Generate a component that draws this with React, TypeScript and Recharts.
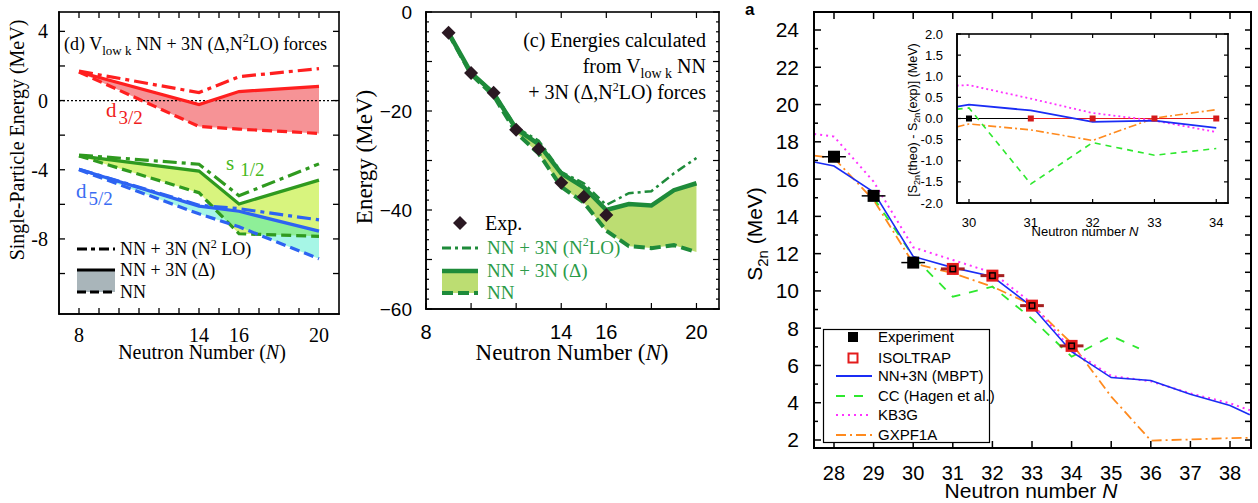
import React from "react";
import { ComposedChart, Line, Area, Scatter, XAxis, YAxis, ReferenceLine, ErrorBar } from "recharts";

const SERIF = "'Liberation Serif', 'Times New Roman', serif";
const SANS = "'Liberation Sans', Arial, sans-serif";

// (d) single-particle energies (MeV) at N = 8, 14, 16, 20
const spN = [8, 14, 16, 20];
const d32N2LO = [1.7, 0.46, 1.38, 1.85];
const d32Delta = [1.65, -0.23, 0.52, 0.82];
const d32NN = [1.65, -1.5, -1.65, -1.9];
const s12N2LO = [-3.15, -3.68, -5.5, -3.66];
const s12Delta = [-3.2, -4.08, -5.98, -4.6];
const s12NN = [-3.2, -5.33, -7.7, -7.85];
const d52N2LO = [-3.97, -6.05, -6.25, -6.9];
const d52Delta = [-3.97, -6.1, -6.4, -7.55];
const d52NN = [-4.0, -6.55, -7.3, -9.15];
const spXTicks = [8, 9, 10, 11, 12, 13, 14, 15, 16, 17, 18, 19, 20];
const spXLabels = [8, 14, 16, 20];
const spYTicks = [-10, -8, -6, -4, -2, 0, 2, 4];
const spYLabels = [-8, -4, 0, 4];

// (c) ground-state energies (MeV)
const gsN = [9, 10, 11, 12, 13, 14, 15, 16, 17, 18, 19, 20];
const gsExpN = [9, 10, 11, 12, 13, 14, 15, 16];
const gsExp = [-4.2, -12.3, -16.3, -23.8, -27.7, -34.5, -37.3, -41.0];
const gsN2LO = [-4.2, -12.3, -16.2, -23.3, -26.0, -32.3, -34.6, -39.0, -36.6, -36.2, -32.6, -29.5];
const gsDelta = [-4.2, -12.3, -16.4, -23.6, -26.7, -32.6, -35.4, -40.0, -38.8, -39.1, -36.0, -34.6];
const gsNN = [-4.3, -12.6, -16.9, -24.4, -28.6, -35.3, -38.5, -44.2, -47.3, -47.7, -47.1, -48.5];
const gsXTicks = [8, 10, 12, 14, 16, 18, 20];
const gsXLabels = [8, 14, 16, 20];
const gsYTicks = [
  -60, -58, -56, -54, -52, -50, -48, -46, -44, -42, -40, -38, -36, -34, -32, -30, -28, -26, -24, -22, -20, -18, -16,
  -14, -12, -10, -8, -6, -4, -2, 0,
];
const gsYMajor = [-60, -50, -40, -30, -20, -10, 0];
const gsYLabels = [-60, -40, -20, 0];

// (a) two-neutron separation energies S2n (MeV)
const s2nN = [27.5, 28, 29, 30, 31, 32, 33, 34, 35, 36, 37, 38, 38.5];
const mbpt = [16.92, 16.7, 15.3, 11.85, 11.25, 10.77, 9.16, 6.74, 5.35, 5.19, 4.45, 3.85, 3.35];
const kb3g = [18.42, 18.28, 15.86, 12.34, 11.66, 10.98, 9.34, 6.83, 5.44, 5.15, 4.5, 3.97, 3.6];
const gxpf1a = [17.26, 17.12, 14.88, 11.48, 10.95, 10.23, 9.25, 7.19, 4.33, 1.97, 2.03, 2.1, 2.12];
const ccN = [29, 30, 31, 32, 33, 34, 35, 35.7];
const ccHagen = [15.0, 11.85, 9.69, 10.23, 8.5, 6.47, 7.58, 6.92];
const expN = [28, 29, 30];
const expS2n = [17.2, 15.1, 11.52];
const isoN = [31, 32, 33, 34];
const isoS2n = [11.18, 10.82, 9.21, 7.05];
const nErr = 0.3;
const aXTicks = [28, 29, 30, 31, 32, 33, 34, 35, 36, 37, 38];
const aYTicks = [2, 3, 4, 5, 6, 7, 8, 9, 10, 11, 12, 13, 14, 15, 16, 17, 18, 19, 20, 21, 22, 23, 24];
const aYLabels = [2, 4, 6, 8, 10, 12, 14, 16, 18, 20, 22, 24];

// inset: S2n(theo) - S2n(exp)
const diffN = [29.8, 30, 31, 32, 33, 34];
const diffMbpt = [0.28, 0.33, 0.19, -0.08, -0.05, -0.22];
const diffKb3g = [0.78, 0.79, 0.47, 0.13, -0.05, -0.32];
const diffCC = [0.22, 0.25, -1.55, -0.57, -0.87, -0.71];
const diffGx = [-0.2, -0.13, -0.27, -0.52, 0.01, 0.21];
const diffExpN = [29.8, 30, 31];
const diffIsoN = [31, 32, 33, 34];
const iXTicks = [30, 31, 32, 33, 34];
const iYTicks = [-2, -1.5, -1, -0.5, 0, 0.5, 1, 1.5, 2];

const pts = (ns: number[], vs: number[]) => ns.map((n, i) => ({ n, v: vs[i] }));
const band = (ns: number[], lo: number[], hi: number[]) => ns.map((n, i) => ({ n, lo: lo[i], hi: hi[i] }));
const withErr = (ns: number[], vs: number[]) => ns.map((n, i) => ({ n, v: vs[i], e: nErr }));
const rangeKey = (d: any) => [d.lo, d.hi];

const D_DOM_X: [number, number] = [7, 21];
const D_DOM_Y: [number, number] = [-12.34, 5.12];
const C_DOM_X: [number, number] = [8, 21];
const C_DOM_Y: [number, number] = [-60, 0];
const A_DOM_X: [number, number] = [27.495, 38.53];
const A_DOM_Y: [number, number] = [1.571, 24.966];
const I_DOM_X: [number, number] = [29.806, 34.19];
const I_DOM_Y: [number, number] = [-2, 2];

const only = (labels: number[], f: (v: number) => string = String) => (v: number) => (labels.includes(v) ? f(v) : "");
const fmtSpX = only(spXLabels);
const fmtSpY = only(spYLabels);
const fmtGsX = only(gsXLabels);
const fmtGsY = only(gsYLabels, (v) => (v < 0 ? "\u2212" + Math.abs(v) : String(v)));
const fmtAY = only(aYLabels);
const fmtI = (v: number) => v.toFixed(1);

const dRed = { band: band(spN, d32NN, d32Delta), n2lo: pts(spN, d32N2LO), delta: pts(spN, d32Delta), nn: pts(spN, d32NN) };
const dGreen = { band: band(spN, s12NN, s12Delta), n2lo: pts(spN, s12N2LO), delta: pts(spN, s12Delta), nn: pts(spN, s12NN) };
const dBlue = { band: band(spN, d52NN, d52Delta), n2lo: pts(spN, d52N2LO), delta: pts(spN, d52Delta), nn: pts(spN, d52NN) };
const cBand = band(gsN, gsNN, gsDelta);
const cNN = pts(gsN, gsNN);
const cDelta = pts(gsN, gsDelta);
const cN2LO = pts(gsN, gsN2LO);
const cExp = pts(gsExpN, gsExp);
const aGx = pts(s2nN, gxpf1a);
const aCC = pts(ccN, ccHagen);
const aKb = pts(s2nN, kb3g);
const aMb = pts(s2nN, mbpt);
const aExp = withErr(expN, expS2n);
const aIso = withErr(isoN, isoS2n);
const iZeroExp = pts(diffExpN, diffExpN.map(() => 0));
const iZeroIso = pts(diffIsoN, diffIsoN.map(() => 0));
const iGx = pts(diffN, diffGx);
const iCC = pts(diffN, diffCC);
const iKb = pts(diffN, diffKb3g);
const iMb = pts(diffN, diffMbpt);
const iExpPt = pts([30], [0]);

const diamond = (p: any) => (
  <polygon points={`${p.cx},${p.cy - 7} ${p.cx + 7},${p.cy} ${p.cx},${p.cy + 7} ${p.cx - 7},${p.cy}`} fill="#2a1822" />
);
const expSq = (p: any) => <rect x={p.cx - 6} y={p.cy - 6} width={12} height={12} fill="#000" />;
const isoSq = (p: any) => (
  <g>
    <rect x={p.cx - 6} y={p.cy - 6} width={12} height={12} fill="#e31b1b" />
    <rect x={p.cx - 3.5} y={p.cy - 3.5} width={7} height={7} fill="#000" />
    <rect x={p.cx - 2} y={p.cy - 2} width={4} height={4} fill="#e31b1b" />
  </g>
);
const smallBlack = (p: any) => <rect x={p.cx - 3} y={p.cy - 3} width={6} height={6} fill="#000" />;
const smallRed = (p: any) => <rect x={p.cx - 3} y={p.cy - 3} width={6} height={6} fill="#d41a1a" />;

const AX = { stroke: "#000", strokeWidth: 1.5 };
const AX2 = { stroke: "#000", strokeWidth: 2 };
const tickSerif20 = { fontSize: 20, fontFamily: SERIF, fill: "#000" };
const tickSans20 = { fontSize: 20, fontFamily: SANS, fill: "#000" };
const tickSans19 = { fontSize: 19, fontFamily: SANS, fill: "#000" };
const tickSans21 = { fontSize: 21, fontFamily: SANS, fill: "#000" };
const tickSans13 = { fontSize: 13, fontFamily: SANS, fill: "#000" };

const off = { isAnimationActive: false, dot: false, activeDot: false, legendType: "none" as const };

function PanelD() {
  const RED = "#ff1f1f";
  const GREEN = "#2f9a1f";
  const BLUE = "#2d63f2";
  const DD = "14 5 4 5";
  const DA = "10 5";
  return (
    <div style={{ position: "absolute", left: 0, top: 0 }}>
      <ComposedChart width={360} height={370} margin={{ top: 12, right: 21, bottom: 0, left: 0 }}>
        <XAxis type="number" dataKey="n" domain={D_DOM_X} ticks={spXTicks} height={56} allowDataOverflow interval={0}
          axisLine={AX} tickLine={false} tickMargin={8} tick={tickSerif20} tickFormatter={fmtSpX} />
        <YAxis type="number" domain={D_DOM_Y} ticks={spYTicks} width={59} allowDataOverflow interval={0}
          axisLine={AX} tickLine={false} tickMargin={5} tick={tickSerif20} tickFormatter={fmtSpY} />
        <ReferenceLine y={0} stroke="#000" strokeWidth={1.2} strokeDasharray="2 2" />

        <Area data={dRed.band} dataKey={rangeKey} fill="#f69396" fillOpacity={1} stroke="none" {...off} />
        <Area data={dGreen.band} dataKey={rangeKey} fill="#d8f47e" fillOpacity={1} stroke="none" {...off} />

        <Line data={dRed.n2lo} dataKey="v" stroke={RED} strokeWidth={3.2} strokeDasharray={DD} {...off} />
        <Line data={dRed.delta} dataKey="v" stroke={RED} strokeWidth={3.2} {...off} />
        <Line data={dRed.nn} dataKey="v" stroke={RED} strokeWidth={3.2} strokeDasharray={DA} {...off} />

        <Line data={dGreen.n2lo} dataKey="v" stroke={GREEN} strokeWidth={3.2} strokeDasharray={DD} {...off} />
        <Line data={dGreen.delta} dataKey="v" stroke={GREEN} strokeWidth={3.2} {...off} />
        <Line data={dGreen.nn} dataKey="v" stroke={GREEN} strokeWidth={3.2} strokeDasharray={DA} {...off} />

        <Area data={dBlue.band} dataKey={rangeKey} fill="rgb(32,232,192)" fillOpacity={0.4} stroke="none" {...off} />

        <Line data={dBlue.n2lo} dataKey="v" stroke={BLUE} strokeWidth={3.2} strokeDasharray={DD} {...off} />
        <Line data={dBlue.delta} dataKey="v" stroke={BLUE} strokeWidth={3.2} {...off} />
        <Line data={dBlue.nn} dataKey="v" stroke={BLUE} strokeWidth={3.2} strokeDasharray={DA} {...off} />
      </ComposedChart>
    </div>
  );
}

function PanelC() {
  const G = "#1e8b3a";
  return (
    <div style={{ position: "absolute", left: 340, top: 0 }}>
      <ComposedChart width={390} height={370} margin={{ top: 12, right: 11, bottom: 0, left: 0 }}>
        <XAxis type="number" dataKey="n" domain={C_DOM_X} ticks={gsXTicks} height={61} allowDataOverflow interval={0}
          axisLine={AX} tickLine={false} tickMargin={10} tick={tickSans20} tickFormatter={fmtGsX} />
        <YAxis type="number" domain={C_DOM_Y} ticks={gsYTicks} width={86} allowDataOverflow interval={0}
          axisLine={AX} tickLine={false} tickMargin={8} tick={tickSans19} tickFormatter={fmtGsY} />
        <Area data={cBand} dataKey={rangeKey} fill="#bcdd72" fillOpacity={1} stroke="none" {...off} />
        <Line data={cNN} dataKey="v" stroke={G} strokeWidth={4} strokeDasharray="11 5" {...off} />
        <Line data={cDelta} dataKey="v" stroke={G} strokeWidth={4.5} {...off} />
        <Line data={cN2LO} dataKey="v" stroke={G} strokeWidth={2.5} strokeDasharray="9 4 3 4" {...off} />
        <Scatter data={cExp} dataKey="v" shape={diamond} isAnimationActive={false} legendType="none" />
      </ComposedChart>
    </div>
  );
}

const A_BLUE = "#1a2cf5";
const A_GREEN = "#2ee82e";
const A_MAG = "#ff33ff";
const A_ORANGE = "#ff8a1e";

function PanelA() {
  return (
    <div style={{ position: "absolute", left: 740, top: 0 }}>
      <ComposedChart width={518} height={503} margin={{ top: 12, right: 7, bottom: 0, left: 0 }}>
        <XAxis type="number" dataKey="n" domain={A_DOM_X} ticks={aXTicks} height={55} allowDataOverflow interval={0}
          axisLine={AX2} tickLine={false} tickMargin={12} tick={tickSans20} />
        <YAxis type="number" domain={A_DOM_Y} ticks={aYTicks} width={74} allowDataOverflow interval={0}
          axisLine={AX2} tickLine={false} tickMargin={9} tick={tickSans21} tickFormatter={fmtAY} />
        <Line data={aGx} dataKey="v" stroke={A_ORANGE} strokeWidth={1.8} strokeDasharray="10 4 2 4" {...off} />
        <Line data={aCC} dataKey="v" stroke={A_GREEN} strokeWidth={1.8} strokeDasharray="9 9" {...off} />
        <Line data={aKb} dataKey="v" stroke={A_MAG} strokeWidth={2} strokeDasharray="2 4" {...off} />
        <Line data={aMb} dataKey="v" stroke={A_BLUE} strokeWidth={1.6} {...off} />
        <Scatter data={aExp} dataKey="v" shape={expSq} isAnimationActive={false} legendType="none">
          <ErrorBar dataKey="e" direction="x" width={0} stroke="#000" strokeWidth={1.5} />
        </Scatter>
        <Scatter data={aIso} dataKey="v" shape={isoSq} isAnimationActive={false} legendType="none">
          <ErrorBar dataKey="e" direction="x" width={0} stroke="#a52020" strokeWidth={3} />
        </Scatter>
      </ComposedChart>
    </div>
  );
}

function Inset() {
  return (
    <div style={{ position: "absolute", left: 880, top: 28 }}>
      <ComposedChart width={360} height={215} margin={{ top: 6, right: 12, bottom: 0, left: 0 }}>
        <XAxis type="number" dataKey="n" domain={I_DOM_X} ticks={iXTicks} height={40} allowDataOverflow interval={0}
          axisLine={AX} tickLine={false} tickMargin={9} tick={tickSans13} />
        <YAxis type="number" domain={I_DOM_Y} ticks={iYTicks} width={77} allowDataOverflow interval={0}
          axisLine={AX} tickLine={false} tickMargin={8} tick={tickSans13} tickFormatter={fmtI} />
        <Line data={iZeroExp} dataKey="v" stroke="#000" strokeWidth={1.2} {...off} />
        <Line data={iZeroIso} dataKey="v" stroke="#e31b1b" strokeWidth={1.2} {...off} />
        <Line data={iGx} dataKey="v" stroke={A_ORANGE} strokeWidth={1.6} strokeDasharray="8 3 2 3" {...off} />
        <Line data={iCC} dataKey="v" stroke={A_GREEN} strokeWidth={1.6} strokeDasharray="6 5" {...off} />
        <Line data={iKb} dataKey="v" stroke={A_MAG} strokeWidth={1.8} strokeDasharray="2 3" {...off} />
        <Line data={iMb} dataKey="v" stroke={A_BLUE} strokeWidth={1.8} {...off} />
        <Scatter data={iExpPt} dataKey="v" shape={smallBlack} isAnimationActive={false} legendType="none" />
        <Scatter data={iZeroIso} dataKey="v" shape={smallRed} isAnimationActive={false} legendType="none" />
      </ComposedChart>
    </div>
  );
}

// Plot frame and inward ticks on all four sides, drawn as filled bars.
// Box and domains are the same ones the charts above are laid out with.
interface FrameSpec {
  l: number;
  r: number;
  t: number;
  b: number;
  dx: [number, number];
  dy: [number, number];
  xt: number[];
  yt: number[];
  xLen: number;
  yLen: number;
  yMajor?: number[];
  yMinorLen?: number;
  rightLen?: number;
  sw: number;
  tw: number;
}

function FrameTicks({ f }: { f: FrameSpec }) {
  const sx = (v: number) => f.l + ((v - f.dx[0]) / (f.dx[1] - f.dx[0])) * (f.r - f.l);
  const sy = (v: number) => f.b - ((v - f.dy[0]) / (f.dy[1] - f.dy[0])) * (f.b - f.t);
  const yl = (v: number) => (!f.yMajor || f.yMajor.includes(v) ? f.yLen : f.yMinorLen ?? f.yLen);
  const h = f.sw / 2;
  const th = f.tw / 2;
  const bars: React.ReactNode[] = [
    <rect key="top" x={f.l - h} y={f.t - h} width={f.r - f.l + f.sw} height={f.sw} fill="#000" />,
    <rect key="bot" x={f.l - h} y={f.b - h} width={f.r - f.l + f.sw} height={f.sw} fill="#000" />,
    <rect key="lft" x={f.l - h} y={f.t - h} width={f.sw} height={f.b - f.t + f.sw} fill="#000" />,
    <rect key="rgt" x={f.r - h} y={f.t - h} width={f.sw} height={f.b - f.t + f.sw} fill="#000" />,
  ];
  f.xt.forEach((v) => {
    const x = sx(v);
    bars.push(<rect key={"xb" + v} x={x - th} y={f.b - f.xLen} width={f.tw} height={f.xLen} fill="#000" />);
    bars.push(<rect key={"xt" + v} x={x - th} y={f.t} width={f.tw} height={f.xLen} fill="#000" />);
  });
  f.yt.forEach((v) => {
    const y = sy(v);
    const L = yl(v);
    const R = f.rightLen ?? L;
    bars.push(<rect key={"yl" + v} x={f.l} y={y - th} width={L} height={f.tw} fill="#000" />);
    bars.push(<rect key={"yr" + v} x={f.r - R} y={y - th} width={R} height={f.tw} fill="#000" />);
  });
  return <g>{bars}</g>;
}

const FRAMES: FrameSpec[] = [
  { l: 59, r: 339, t: 12, b: 314, dx: D_DOM_X, dy: D_DOM_Y, xt: spXTicks, yt: spYTicks, xLen: 6, yLen: 6, sw: 1.6, tw: 1.3 },
  {
    l: 426, r: 719, t: 12, b: 309, dx: C_DOM_X, dy: C_DOM_Y, xt: gsXTicks, yt: gsYTicks, xLen: 6, yLen: 6,
    yMajor: gsYMajor, yMinorLen: 3, sw: 1.6, tw: 1.2,
  },
  {
    l: 814, r: 1251, t: 12, b: 448, dx: A_DOM_X, dy: A_DOM_Y, xt: aXTicks, yt: aYTicks, xLen: 7, yLen: 7,
    yMajor: aYLabels, yMinorLen: 4, rightLen: 6, sw: 2, tw: 1.5,
  },
  { l: 957, r: 1228, t: 34, b: 203, dx: I_DOM_X, dy: I_DOM_Y, xt: iXTicks, yt: iYTicks, xLen: 4, yLen: 4, sw: 1.6, tw: 1.2 },
];

// titles, panel texts, legends and plot frames, in page pixels
function Annotations() {
  const G = "#1e8b3a";
  const rows = [8, 29, 47, 67, 86, 106];
  return (
    <svg width={1258} height={503} style={{ position: "absolute", left: 0, top: 0, pointerEvents: "none" }}>
      {FRAMES.map((f, i) => (
        <FrameTicks key={i} f={f} />
      ))}

      {/* panel (d) */}
      <text x={64} y={50} fontFamily={SERIF} fontSize={18} fill="#000">
        (d) V<tspan dy={5} fontSize={13}>low k</tspan>
        <tspan dy={-5}>{" NN + 3N (\u0394,N"}</tspan>
        <tspan dy={-8} fontSize={12}>2</tspan>
        <tspan dy={8}>LO) forces</tspan>
      </text>
      <text x={106} y={117} fontFamily={SERIF} fontSize={21} fill="#f01c1c">
        d<tspan dx={2} dy={7} fontSize={19}>3/2</tspan>
      </text>
      <text x={226} y={170} fontFamily={SERIF} fontSize={21} fill="#46b820">
        s<tspan dx={6} dy={6} fontSize={19}>1/2</tspan>
      </text>
      <text x={76} y={198} fontFamily={SERIF} fontSize={21} fill="#3a6cf2">
        d<tspan dx={2} dy={7} fontSize={19}>5/2</tspan>
      </text>
      <text x={202} y={359} textAnchor="middle" fontFamily={SERIF} fontSize={20} fill="#000">
        Neutron Number (<tspan fontStyle="italic">N</tspan>)
      </text>
      <text x={24} y={140} transform="rotate(-90, 24, 140)" textAnchor="middle" fontFamily={SERIF} fontSize={20} fill="#000">
        Single-Particle Energy (MeV)
      </text>
      <g transform="translate(70, 238)" fontFamily={SERIF} fontSize={18} fill="#000">
        <line x1={7} y1={11} x2={45} y2={11} stroke="#000" strokeWidth={3.2} strokeDasharray="10 4 4 4" />
        <text x={50} y={17}>
          NN + 3N (N<tspan dy={-7} fontSize={12}>2</tspan>
          <tspan dy={7}> LO)</tspan>
        </text>
        <rect x={7} y={32} width={38} height={22} fill="#a9b5ba" />
        <line x1={7} y1={32} x2={45} y2={32} stroke="#000" strokeWidth={3.2} />
        <line x1={7} y1={54} x2={45} y2={54} stroke="#000" strokeWidth={3.2} strokeDasharray="9 4" />
        <text x={50} y={38}>NN + 3N (Δ)</text>
        <text x={50} y={60}>NN</text>
      </g>

      {/* panel (c) */}
      <g fontFamily={SERIF} fontSize={20} fill="#000" textAnchor="end">
        <text x={706} y={47}>(c) Energies calculated</text>
        <text x={706} y={73}>
          {"from  V"}
          <tspan dy={5} fontSize={14}>low k</tspan>
          <tspan dy={-5}> NN</tspan>
        </text>
        <text x={706} y={99}>
          {"+ 3N (\u0394,N"}
          <tspan dy={-8} fontSize={12}>2</tspan>
          <tspan dy={8}>LO) forces</tspan>
        </text>
      </g>
      <text x={572} y={360} textAnchor="middle" fontFamily={SERIF} fontSize={23} fill="#000">
        Neutron Number (<tspan fontStyle="italic">N</tspan>)
      </text>
      <text x={372} y={157} transform="rotate(-90, 372, 157)" textAnchor="middle" fontFamily={SERIF} fontSize={23} fill="#000">
        Energy (MeV)
      </text>
      <g transform="translate(435, 205)" fontFamily={SERIF} fontSize={19}>
        <polygon points="25,11 32,18 25,25 18,18" fill="#2a1822" />
        <text x={50} y={25} fontSize={20} fill="#000">Exp.</text>
        <line x1={7} y1={43} x2={43} y2={43} stroke={G} strokeWidth={3} strokeDasharray="9 4 3 4" />
        <rect x={7} y={66} width={36} height={22} fill="#bcdd72" />
        <line x1={7} y1={66} x2={43} y2={66} stroke={G} strokeWidth={4.5} />
        <line x1={7} y1={88} x2={43} y2={88} stroke={G} strokeWidth={4} strokeDasharray="11 5" />
        <g fill="#2b9b48">
          <text x={52} y={49}>
            NN + 3N (N<tspan dy={-8} fontSize={12}>2</tspan>
            <tspan dy={8}>LO)</tspan>
          </text>
          <text x={52} y={72}>NN + 3N (Δ)</text>
          <text x={52} y={94}>NN</text>
        </g>
      </g>

      {/* panel (a) */}
      <text x={745} y={15} fontFamily={SANS} fontSize={17} fontWeight="bold" fill="#000">
        a
      </text>
      <text x={1031} y={498} textAnchor="middle" fontFamily={SANS} fontSize={21} fill="#000">
        Neutron number <tspan fontStyle="italic">N</tspan>
      </text>
      <text x={762} y={234} transform="rotate(-90, 762, 234)" textAnchor="middle" fontFamily={SANS} fontSize={21} fill="#000">
        S<tspan dy={6} fontSize={15}>2n</tspan>
        <tspan dy={-6}> (MeV)</tspan>
      </text>
      <text x={1085} y={236} textAnchor="middle" fontFamily={SANS} fontSize={13} fill="#000">
        Neutron number <tspan fontStyle="italic">N</tspan>
      </text>
      <text x={917} y={120} transform="rotate(-90, 917, 120)" textAnchor="middle" fontFamily={SANS} fontSize={12.5} fill="#000">
        [S<tspan dy={3} fontSize={9}>2n</tspan>
        <tspan dy={-3}>(theo) - S</tspan>
        <tspan dy={3} fontSize={9}>2n</tspan>
        <tspan dy={-3}>(exp)] (MeV)</tspan>
      </text>
      <g transform="translate(823, 329)">
        <rect x={0.5} y={0.5} width={166} height={113} fill="#fff" stroke="#000" strokeWidth={1.2} />
        <rect x={25} y={rows[0] - 5} width={10} height={10} fill="#000" />
        <rect x={25.5} y={rows[1] - 4.5} width={9} height={9} fill="#fff" stroke="#e31b1b" strokeWidth={2} />
        <line x1={13} y1={rows[2]} x2={49} y2={rows[2]} stroke={A_BLUE} strokeWidth={1.8} />
        <line x1={13} y1={rows[3]} x2={49} y2={rows[3]} stroke={A_GREEN} strokeWidth={1.8} strokeDasharray="9 9" />
        <line x1={13} y1={rows[4]} x2={49} y2={rows[4]} stroke={A_MAG} strokeWidth={2} strokeDasharray="2 4" />
        <line x1={13} y1={rows[5]} x2={49} y2={rows[5]} stroke={A_ORANGE} strokeWidth={1.8} strokeDasharray="10 4 2 4" />
        <g fontFamily={SANS} fontSize={15} fill="#000">
          <text x={55} y={rows[0] + 5}>Experiment</text>
          <text x={55} y={rows[1] + 5}>ISOLTRAP</text>
          <text x={55} y={rows[2] + 5}>NN+3N (MBPT)</text>
          <text x={55} y={rows[3] + 5}>CC (Hagen et al.)</text>
          <text x={55} y={rows[4] + 5}>KB3G</text>
          <text x={55} y={rows[5] + 5}>GXPF1A</text>
        </g>
      </g>
    </svg>
  );
}

export default function App() {
  return (
    <div style={{ position: "absolute", left: 0, top: 0, width: 1258, height: 503, background: "#fff" }}>
      <PanelD />
      <PanelC />
      <PanelA />
      <Inset />
      <Annotations />
    </div>
  );
}
